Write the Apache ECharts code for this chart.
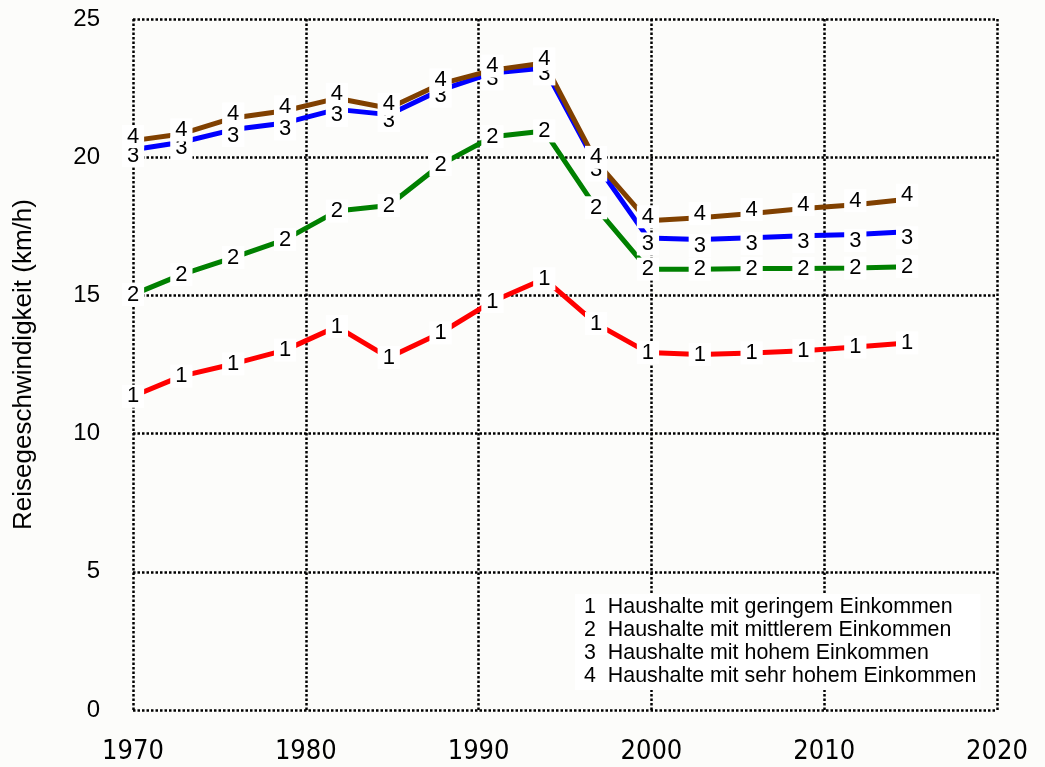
<!DOCTYPE html>
<html>
<head>
<meta charset="utf-8">
<script src="https://cdn.jsdelivr.net/npm/echarts@6/dist/echarts.min.js"></script>
<style>
  html, body { margin: 0; padding: 0; background: #fcfcfa; }
  #chart { width: 1045px; height: 767px; }
</style>
</head>
<body>
<div id="chart"></div>
<script>
// survey years (read from the point positions)
const years = [1970, 1972.8, 1975.8, 1978.8, 1981.8, 1984.8, 1987.8, 1990.8, 1993.8, 1996.8, 1999.8, 2002.8, 2005.8, 2008.8, 2011.8, 2014.8]

const lowIncome = [11.35, 12.08, 12.52, 13.02, 13.87, 12.75, 13.64, 14.78, 15.6, 13.98, 12.93, 12.86, 12.92, 13.0, 13.13, 13.28]
const midIncome = [15.03, 15.75, 16.37, 17.02, 18.05, 18.25, 19.73, 20.74, 20.95, 18.17, 15.95, 15.95, 15.97, 15.97, 15.99, 16.04]
const highIncome = [20.27, 20.54, 21.0, 21.24, 21.73, 21.54, 22.43, 23.05, 23.23, 19.75, 17.08, 17.02, 17.09, 17.16, 17.2, 17.3]
const veryHighIncome = [20.6, 20.84, 21.42, 21.68, 22.13, 21.77, 22.65, 23.15, 23.41, 19.85, 17.7, 17.81, 17.96, 18.14, 18.28, 18.48]

const seriesNames = [
  'Haushalte mit geringem Einkommen',
  'Haushalte mit mittlerem Einkommen',
  'Haushalte mit hohem Einkommen',
  'Haushalte mit sehr hohem Einkommen',
]
const xTicks = [1970, 1980, 1990, 2000, 2010, 2020]
const yTicks = [0, 5, 10, 15, 20, 25]

const colors = ['#ff0000', '#008000', '#0000ff', '#804000']
const labelOffsets = [[0, 0], [0, 0], [0, 6], [0, -4]]

const chart = echarts.init(document.getElementById('chart'))

const gridLine = { show: true, lineStyle: { color: '#000', width: 2.5, type: [2.5, 2] } }

function makeSeries(idx, values) {
  return {
    name: seriesNames[idx],
    type: 'line',
    data: years.map((y, i) => [y, values[i]]),
    symbol: 'circle',
    symbolSize: 0.1,
    itemStyle: { color: colors[idx] },
    lineStyle: { color: colors[idx], width: 5 },
    label: {
      show: true,
      position: 'inside',
      offset: labelOffsets[idx],
      formatter: String(idx + 1),
      fontFamily: 'Liberation Sans, Arial, sans-serif',
      fontSize: 22,
      color: '#000',
      backgroundColor: '#ffffff',
      padding: [1, 5],
      lineHeight: 21,
    },
    emphasis: { disabled: true },
    animation: false,
  }
}

chart.setOption({
  backgroundColor: '#fcfcfa',
  animation: false,
  grid: { left: 133, right: 48, top: 19, bottom: 57 },
  legend: {
    orient: 'vertical',
    left: 575,
    top: 594,
    icon: 'none',
    itemWidth: 0,
    itemHeight: 0,
    itemGap: 0,
    padding: [2, 4],
    backgroundColor: '#ffffff',
    selectedMode: false,
    data: seriesNames,
    formatter: name => (seriesNames.indexOf(name) + 1) + '  ' + name,
    textStyle: { fontFamily: 'Liberation Sans, Arial, sans-serif', fontSize: 21.4, color: '#000', lineHeight: 23 },
  },
  xAxis: {
    type: 'value',
    min: xTicks[0],
    max: xTicks[xTicks.length - 1],
    interval: 10,
    axisLine: { show: false },
    axisTick: { show: false },
    splitLine: gridLine,
    axisLabel: {
      margin: 28,
      formatter: v => String(v),
      fontFamily: 'Liberation Sans Narrow, DejaVu Sans Condensed, sans-serif',
      fontSize: 27,
      color: '#000',
      showMinLabel: true,
      showMaxLabel: true,
    },
  },
  yAxis: {
    type: 'value',
    min: yTicks[0],
    max: yTicks[yTicks.length - 1],
    interval: 5,
    name: 'Reisegeschwindigkeit (km/h)',
    nameLocation: 'middle',
    nameGap: 96,
    nameTextStyle: { fontFamily: 'Liberation Sans, Arial, sans-serif', fontSize: 26, color: '#000' },
    axisLine: { show: false },
    axisTick: { show: false },
    splitLine: gridLine,
    axisLabel: {
      margin: 33,
      fontFamily: 'Liberation Sans, Arial, sans-serif',
      fontSize: 24,
      color: '#000',
    },
  },
  series: [
    makeSeries(0, lowIncome),
    makeSeries(1, midIncome),
    makeSeries(2, highIncome),
    makeSeries(3, veryHighIncome),
  ],
})
</script>
</body>
</html>
